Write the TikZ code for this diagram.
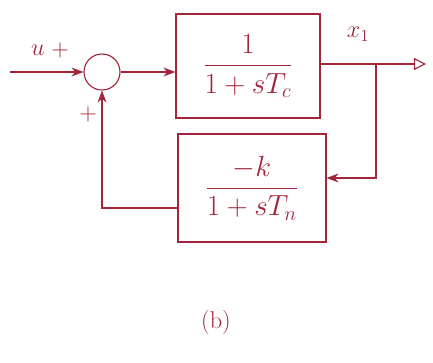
\documentclass[tikz,border=0pt]{standalone}
\usepackage{amsmath, amssymb}
\usepackage{xcolor}
\usepackage{tikz}
\usetikzlibrary{positioning, arrows.meta, calc}
\definecolor{penred}{HTML}{A3253A}

\begin{document}
\begin{tikzpicture}[
  box/.style={draw=penred, thick, minimum width=3.6cm, minimum height=2.6cm,
    align=center, font=\huge, text=penred},
  sumnode/.style={draw=penred, thick, circle, minimum size=0.9cm},
  arr/.style={-{Stealth[length=3mm]}, thick, draw=penred},
  lbl/.style={text=penred, font=\LARGE}
]
  \useasboundingbox (0,0) rectangle (10.825,9.05);

  % Nodes
  \node[sumnode] (sum) at (2.55,7.25) {};
  \node[box] (plant) at (6.2,7.4) {$\dfrac{1}{1+sT_c}$};
  \node[box, minimum width=3.7cm, minimum height=2.7cm] (fb) at (6.3,4.35)
    {$\dfrac{-k}{1+sT_n}$};

  % Coordinates
  \coordinate (in) at (0.25,7.25);
  \coordinate (branch) at (9.4,7.45);
  \coordinate (out) at (10.65,7.45);

  % Labels
  \node[lbl] (ulbl) at (0.95,7.8) {$u$};
  \node[lbl] (plus1) at (1.5,7.8) {$+$};
  \node[lbl] (plus2) at (2.2,6.2) {$+$};
  \node[lbl] (xlbl) at (8.95,8.2) {$x_1$};
  \node[lbl] (cap) at (5.4,1.0) {(b)};

  % Arrows
  \draw[arr] (in) -- (sum);
  \draw[arr] (sum) -- (sum -| plant.west);
  \draw[thick, draw=penred] (plant.east |- branch) -- (branch);
  \draw[-{Triangle[open, length=3mm, width=3mm]}, thick, draw=penred] (branch) -- (out);
  \draw[arr] (branch) |- ([yshift=2.5mm]fb.east);
  \draw[arr] ([yshift=-5mm]fb.west) -| (sum.south);
\end{tikzpicture}
\end{document}
